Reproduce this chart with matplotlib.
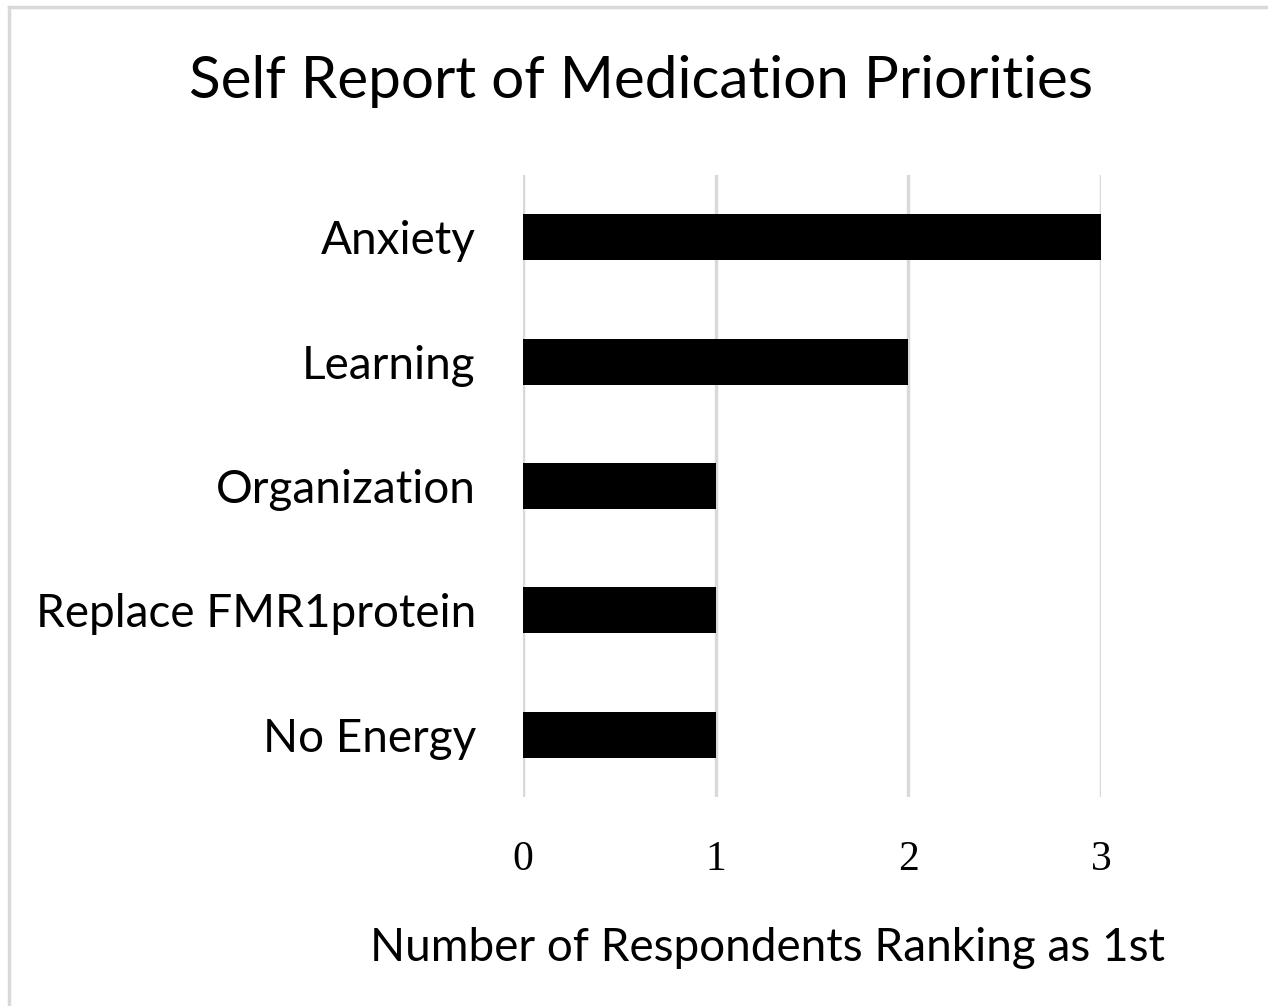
import matplotlib
matplotlib.use("Agg")
import matplotlib.pyplot as plt
from matplotlib.lines import Line2D

categories = ["Anxiety", "Learning", "Organization", "Replace FMR1protein", "No Energy"]
values = [3, 2, 1, 1, 1]
xticks = [0, 1, 2, 3]
title = "Self Report of Medication Priorities"
xlabel = "Number of Respondents Ranking as 1st"

sans = ["Lato", "DejaVu Sans"]
fig = plt.figure(figsize=(12.68, 10.06), dpi=100)
ax = fig.add_axes([523/1268, 1-797/1006, (1101-523)/1268, (797-175)/1006])

ypos = list(range(len(categories)))
ax.barh(ypos, values, height=0.37, color="black", zorder=3)
ax.set_ylim(len(categories)-0.5, -0.5)
ax.set_xlim(0, 3)
ax.set_yticks(ypos)
ax.set_yticklabels(categories, family=sans, fontsize=33)
ax.set_xticks(xticks)
ax.set_xticklabels([str(t) for t in xticks], family="Liberation Serif", fontsize=30)
ax.tick_params(axis="both", length=0)
ax.tick_params(axis="y", pad=34)
ax.tick_params(axis="x", pad=31)
ax.grid(axis="x", color="#d9d9d9", linewidth=2.5, zorder=0)
for s in ax.spines.values():
    s.set_visible(False)

fig.text(641/1268, 1-81/1006, title, ha="center", va="center", family=sans, fontsize=42)
fig.text(767/1268, 1-948/1006, xlabel, ha="center", va="center", family=sans, fontsize=33)

# figure border (left and top visible)
fig.add_artist(Line2D([9/1268, 9/1268], [0, 1-7/1006], transform=fig.transFigure, color="#d9d9d9", linewidth=2.5))
fig.add_artist(Line2D([9/1268, 1], [1-7/1006, 1-7/1006], transform=fig.transFigure, color="#d9d9d9", linewidth=2.5))

fig.savefig("out.png", dpi=100)
